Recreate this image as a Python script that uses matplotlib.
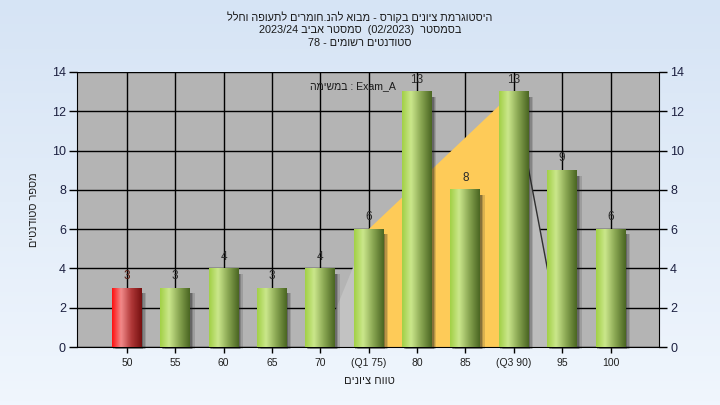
import re
import numpy as np
import matplotlib
matplotlib.use("Agg")
import matplotlib.pyplot as plt
from matplotlib.colors import LinearSegmentedColormap
from matplotlib.patches import Rectangle, Polygon

plt.rcParams['font.family'] = ['Liberation Sans', 'DejaVu Sans']

# data
categories = ['50', '55', '60', '65', '70', '(Q1 75)', '80', '85', '(Q3 90)', '95', '100']
counts = [3, 3, 4, 3, 4, 6, 13, 8, 13, 9, 6]
failed = ['50']
box_cats = ['70', '(Q1 75)', '(Q3 90)', '95']
box_vals = [0, 6, 13, 0]

title_lines = ['היסטוגרמת ציונים בקורס - מבוא להנ.חומרים לתעופה וחלל',
               'בסמסטר  (02/2023)  סמסטר אביב 2023/24',
               'סטודנטים רשומים - 78']
note = 'Exam_A : במשימה'
xlabel = 'טווח ציונים'
ylabel = 'מספר סטודנטים'


def rtl(s):
    # matplotlib has no bidi, so lay the hebrew out by hand
    r = s[::-1]
    r = re.sub(r'[0-9A-Za-z_/]+', lambda m: m.group(0)[::-1], r)
    return r.translate(str.maketrans('()', ')('))


fig = plt.figure(figsize=(7.2, 4.05), dpi=100)

# figure background gradient
bg = fig.add_axes([0, 0, 1, 1], zorder=-10)
bg_cmap = LinearSegmentedColormap.from_list('bg', ['#d6e4f5', '#f0f6fd'])
bg.imshow(np.linspace(0, 1, 100).reshape(-1, 1), cmap=bg_cmap, aspect='auto',
          extent=[0, 1, 0, 1])
bg.axis('off')

ax = fig.add_axes([77 / 720, 1 - 347 / 405, 582 / 720, 275 / 405])
ax.set_facecolor('#b4b4b4')

green = LinearSegmentedColormap.from_list('g', [(0, '#a2d046'), (0.3, '#cbe78c'),
                                                (0.65, '#88a551'), (1, '#4a6622')])
red = LinearSegmentedColormap.from_list('r', [(0, '#ff1010'), (0.3, '#f28a8a'),
                                              (0.65, '#b03838'), (1, '#761010')])
grad = np.linspace(0, 1, 64).reshape(1, -1)

x = np.arange(len(categories))
w = 0.62

# box / whisker area behind the bars
bx = [categories.index(c) for c in box_cats]
ax.add_patch(Polygon([(bx[0], 0), (bx[1], box_vals[1]), (bx[1], 0)],
                     closed=True, fc='#c2c2c2', ec='none', zorder=1.5))
ax.add_patch(Polygon([(bx[1], 0), (bx[1], box_vals[1]), (bx[2], box_vals[2]), (bx[2], 0)],
                     closed=True, fc='#fecb58', ec='none', zorder=1.5))
ax.add_patch(Polygon([(bx[2], 0), (bx[2], box_vals[2]), (bx[3], box_vals[3])],
                     closed=True, fc='#bcbcbc', ec='none', zorder=1.5))
ax.plot(bx[2:], box_vals[2:], color='#303030', lw=1.0, zorder=1.6)

for i, (cat, v) in enumerate(zip(categories, counts)):
    # soft shadow
    for k, a in enumerate([0.15, 0.2, 0.3]):
        off = 0.03 + 0.03 * (2 - k)
        ax.add_patch(Rectangle((i - w / 2 + off, -0.12), w, v - 0.15, fc='#202020', ec='none',
                               alpha=a, zorder=2, clip_on=False))
    cmap = red if cat in failed else green
    ax.imshow(grad, cmap=cmap, aspect='auto', extent=[i - w / 2, i + w / 2, 0, v],
              interpolation='bicubic', zorder=3)
    ax.text(i, v + 0.3, str(v), ha='center', va='bottom', fontsize=8.5,
            color='#5a1a10' if cat in failed else '#2a2a2a', zorder=4)

ax.set_xlim(-1.03, 11.0)
ax.set_ylim(0, 14)
ax.set_xticks(x)
ax.set_xticklabels(categories)
ax.set_yticks(range(0, 15, 2))
ax.grid(True, color='black', lw=1, zorder=1)
ax.set_axisbelow(True)
ax.tick_params(axis='y', which='both', left=True, right=True, labelleft=True, labelright=True,
               length=6, width=1, labelsize=9, labelcolor='#1c2040', pad=2)
ax.tick_params(axis='x', length=4, width=1, labelsize=7.5, labelcolor='#202020', pad=4)
for s in ax.spines.values():
    s.set_color('black')
ax.spines['top'].set_visible(False)

fig.text(369 / 720, 1 - 381 / 405, rtl(xlabel), ha='center', va='center',
         fontsize=8, color='#202020')
fig.text(34 / 720, 1 - 210 / 405, rtl(ylabel), rotation=90, ha='center', va='center',
         fontsize=7.8, color='#202020')

for ln, yp in zip(title_lines, [17, 30, 43]):
    fig.text(0.5, 1 - yp / 405, rtl(ln), ha='center', va='center', fontsize=7.8,
             color='#1a1a1a')

fig.text(396 / 720, 1 - 86 / 405, rtl(note), ha='right', va='center', fontsize=7.6,
         color='#1a1a1a', zorder=5)

fig.savefig('out.png', dpi=100)
